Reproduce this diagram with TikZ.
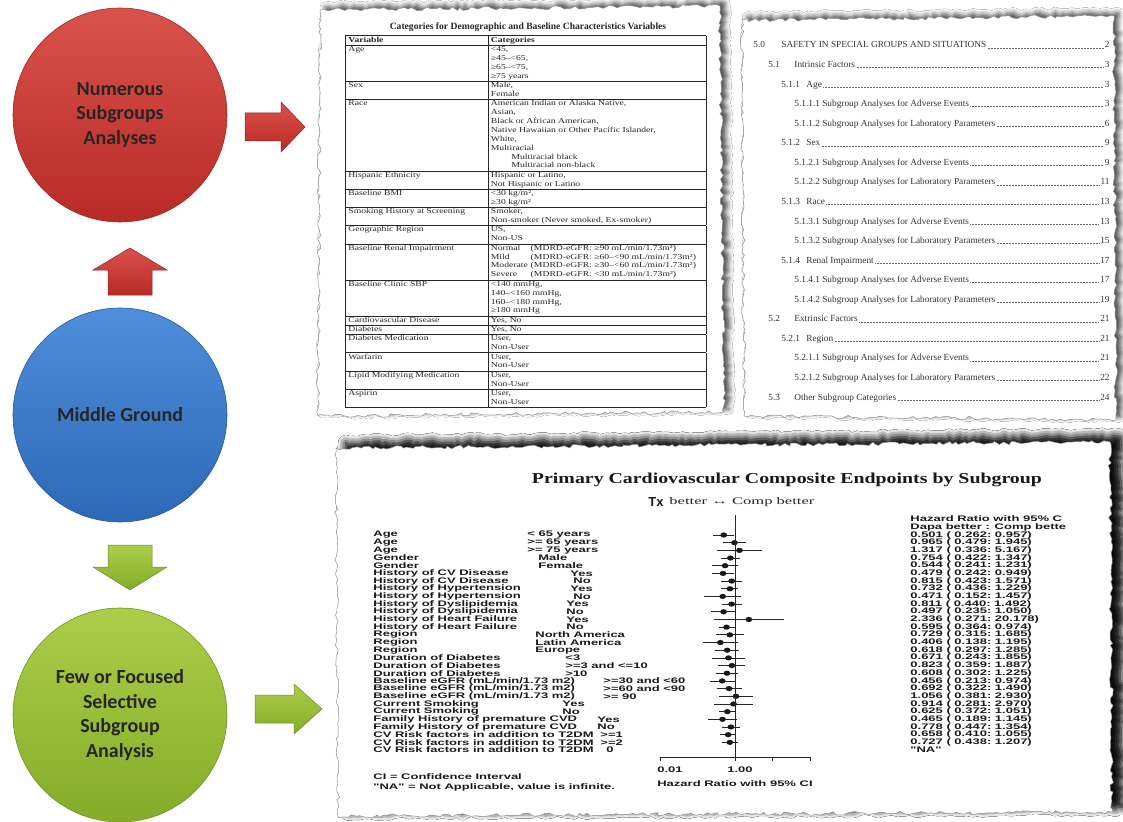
\documentclass[tikz,border=0pt]{standalone}
\usepackage{fontspec}
\setmainfont{Liberation Serif}
\newfontfamily\plotfont{Liberation Sans}
\newfontfamily\bubblefont{Carlito}
\usepackage{graphicx}
\usetikzlibrary{positioning, calc, decorations.pathmorphing, shadows.blur}

\definecolor{redtop}{RGB}{218,82,76}
\definecolor{redbot}{RGB}{184,42,38}
\definecolor{bluetop}{RGB}{78,142,218}
\definecolor{bluebot}{RGB}{44,104,182}
\definecolor{greentop}{RGB}{172,206,74}
\definecolor{greenbot}{RGB}{132,172,40}

\newcommand\squash[1]{\scalebox{1}[0.62]{#1}}
\newcommand\egfr{Baseline eGFR (mL/min/1.73 m2)}

\begin{document}
\begin{tikzpicture}[x=1pt, y=-1pt, node distance=300pt, thick]

		% Define block styles
		\tikzstyle{bubble} = [circle, minimum size=214pt, inner sep=0pt, align=center, text=black!85, line width=0.6pt, font={\bubblefont\bfseries\fontsize{20}{24.5}\selectfont}]
		\tikzstyle{paper} = [fill=white, draw=black!45, line width=0.5pt, decorate, decoration={random steps, segment length=4pt, amplitude=1.8pt}, blur shadow={shadow xshift=5pt, shadow yshift=3pt, shadow blur radius=5pt, shadow opacity=70}]
		\tikzstyle{redarrow} = [top color=redtop, bottom color=redbot, draw=redbot!80!black, line width=0.5pt]
		\tikzstyle{greenarrow} = [top color=greentop, bottom color=greenbot, draw=greenbot!80!black, line width=0.5pt]
		\tikzstyle{toctext} = [inner sep=1pt, text=black!80, font=\fontsize{9.3}{10}\selectfont]
		\tikzstyle{leader} = [densely dotted, line width=0.5pt, black!60]
		\tikzstyle{plottext} = [inner sep=0pt, text=black!90, font=\plotfont\bfseries\fontsize{13}{13}\selectfont]
		\tikzstyle{ci} = [line width=0.7pt, black!85]

		\useasboundingbox (0,0) rectangle (1123,821);
		\fill[white] (0,0) rectangle (1123,821);
		\pgfmathsetseed{7}

		% Papers
		\path[paper] (320,10) -- (720,6) -- (724,412) -- (318,416) -- cycle;
		\path[paper] (742,20) -- (1114,16) -- (1116,420) -- (744,416) -- cycle;
		\path[paper, blur shadow={shadow xshift=10pt, shadow yshift=5pt, shadow blur radius=8pt, shadow opacity=80}] (336,448) -- (1110,442) -- (1112,812) -- (338,816) -- cycle;

		% Nodes
		\node[bubble, top color=redtop, bottom color=redbot, draw=redbot!85!black] (numerous) at (120,115) {Numerous\\Subgroups\\Analyses};
		\node[bubble, top color=bluetop, bottom color=bluebot, draw=bluebot!85!black, below of=numerous] (middle) {Middle Ground};
		\node[bubble, top color=greentop, bottom color=greenbot, draw=greenbot!85!black, below of=middle] (focused) {Few or Focused\\Selective\\Subgroup\\Analysis};

		% Arrows
		\draw[redarrow] (245,113) -- (281,113) -- (281,102) -- (305,127) -- (281,152) -- (281,141) -- (245,141) -- cycle;
		\draw[redarrow] (108,295) -- (108,270) -- (93,270) -- (130,248) -- (167,270) -- (152,270) -- (152,295) -- cycle;
		\draw[greenarrow] (108,545) -- (152,545) -- (152,567) -- (167,567) -- (130,590) -- (93,567) -- (108,567) -- cycle;
		\draw[greenarrow] (255,695) -- (294,695) -- (294,684) -- (322,709) -- (294,734) -- (294,723) -- (255,723) -- cycle;

		% Table of categories
		\node[anchor=south, inner sep=0pt, text=black!85, font=\bfseries\fontsize{9.6}{10}\selectfont] (tabtitle) at (528,32) {Categories for Demographic and Baseline Characteristics Variables};
		\node[anchor=north west, inner sep=0pt, text=black!85, font=\fontsize{8}{9.4}\selectfont] (cattable) at (345,35) {%
			\setlength{\tabcolsep}{2.5pt}%
			\resizebox*{361pt}{372pt}{%
			\begin{tabular}{|p{113pt}|p{176pt}|}
				\hline
				\textbf{Variable} & \textbf{Categories}\\ \hline
				Age & <45,\newline ≥45–<65,\newline ≥65–<75,\newline ≥75 years\\ \hline
				Sex & Male,\newline Female\\ \hline
				Race & American Indian or Alaska Native,\newline Asian,\newline Black or African American,\newline Native Hawaiian or Other Pacific Islander,\newline White,\newline Multiracial\newline \hspace*{17pt}Multiracial black\newline \hspace*{17pt}Multiracial non-black\\ \hline
				Hispanic Ethnicity & Hispanic or Latino,\newline Not Hispanic or Latino\\ \hline
				Baseline BMI & <30 kg/m²,\newline ≥30 kg/m²\\ \hline
				Smoking History at Screening & Smoker,\newline Non-smoker (Never smoked, Ex-smoker)\\ \hline
				Geographic Region & US,\newline Non-US\\ \hline
				Baseline Renal Impairment & \makebox[33pt][l]{Normal}(MDRD-eGFR: ≥90 mL/min/1.73m²)\newline \makebox[33pt][l]{Mild}(MDRD-eGFR: ≥60–<90 mL/min/1.73m²)\newline \makebox[33pt][l]{Moderate}(MDRD-eGFR: ≥30–<60 mL/min/1.73m²)\newline \makebox[33pt][l]{Severe}(MDRD-eGFR: <30 mL/min/1.73m²)\\ \hline
				Baseline Clinic SBP & <140 mmHg,\newline 140–<160 mmHg,\newline 160–<180 mmHg,\newline ≥180 mmHg\\ \hline
				Cardiovascular Disease & Yes, No\\ \hline
				Diabetes & Yes, No\\ \hline
				Diabetes Medication & User,\newline Non-User\\ \hline
				Warfarin & User,\newline Non-User\\ \hline
				Lipid Modifying Medication & User,\newline Non-User\\ \hline
				Aspirin & User,\newline Non-User\\ \hline
			\end{tabular}}};

		% Table of contents
		\foreach \tnum/\tname/\nx/\tox/\pg [count=\i] in {
			5.0/SAFETY IN SPECIAL GROUPS AND SITUATIONS/752/780/2,
			5.1/Intrinsic Factors/767/793/3,
			5.1.1/Age/780/805/3,
			/5.1.1.1 Subgroup Analyses for Adverse Events/793/793/3,
			/5.1.1.2 Subgroup Analyses for Laboratory Parameters/793/793/6,
			5.1.2/Sex/780/805/9,
			/5.1.2.1 Subgroup Analyses for Adverse Events/793/793/9,
			/5.1.2.2 Subgroup Analyses for Laboratory Parameters/793/793/11,
			5.1.3/Race/780/805/13,
			/5.1.3.1 Subgroup Analyses for Adverse Events/793/793/13,
			/5.1.3.2 Subgroup Analyses for Laboratory Parameters/793/793/15,
			5.1.4/Renal Impairment/780/805/17,
			/5.1.4.1 Subgroup Analyses for Adverse Events/793/793/17,
			/5.1.4.2 Subgroup Analyses for Laboratory Parameters/793/793/19,
			5.2/Extrinsic Factors/767/793/21,
			5.2.1/Region/780/805/21,
			/5.2.1.1 Subgroup Analyses for Adverse Events/793/793/21,
			/5.2.1.2 Subgroup Analyses for Laboratory Parameters/793/793/22,
			5.3/Other Subgroup Categories/767/793/24} {
			\pgfmathsetmacro\yy{48+19.56*(\i-1)}
			\node[toctext, anchor=base west] (tocn\i) at (\nx,\yy) {\tnum};
			\node[toctext, anchor=base west] (toct\i) at (\tox,\yy) {\tname};
			\node[toctext, anchor=base east] (tocp\i) at (1111,\yy) {\pg};
			\draw[leader] (toct\i.base east) -- (tocp\i.base west);
		}

		% Forest plot: titles
		\node[inner sep=0pt, text=black!90] (ptitle) at (787,480) {\resizebox{510pt}{10.5pt}{\bfseries Primary Cardiovascular Composite Endpoints by Subgroup}};
		\node[inner sep=0pt, text=black!90, font=\plotfont\bfseries\fontsize{13}{13}\selectfont] (tx) at (656,502) {Tx};
		\node[inner sep=0pt, text=black!85, right=5pt of tx] (txbetter) {\resizebox{145pt}{7pt}{better ↔ Comp better}};
		\node[plottext, anchor=west] (hrhead) at (910,519) {\squash{Hazard Ratio with 95\% C}};
		\node[plottext, anchor=west] (hrsub) at (910,527) {\squash{Dapa better : Comp bette}};

		% Forest plot: subgroups
		\foreach \lab/\cat/\cx [count=\i] in {
			Age/{< 65 years}/527, Age/{>= 65 years}/527, Age/{>= 75 years}/527,
			Gender/Male/538, Gender/Female/538,
			History of CV Disease/Yes/570, History of CV Disease/No/573,
			History of Hypertension/Yes/570, History of Hypertension/No/573,
			History of Dyslipidemia/Yes/566, History of Dyslipidemia/No/566,
			History of Heart Failure/Yes/566, History of Heart Failure/No/566,
			Region/North America/535, Region/Latin America/535, Region/Europe/535,
			Duration of Diabetes/<3/565, Duration of Diabetes/>=3 and <=10/565, Duration of Diabetes/>10/565,
			\egfr/>=30 and <60/603, \egfr/>=60 and <90/603, \egfr/>= 90/603,
			Current Smoking/Yes/562, Current Smoking/No/562,
			Family History of premature CVD/Yes/597, Family History of premature CVD/No/597,
			CV Risk factors in addition to T2DM/>=1/600, CV Risk factors in addition to T2DM/>=2/600, CV Risk factors in addition to T2DM/0/606} {
			\pgfmathsetmacro\yy{535+7.68*(\i-1)}
			\node[plottext, anchor=west] (lab\i) at (373,\yy) {\squash{\lab}};
			\node[plottext, anchor=west] (cat\i) at (\cx,\yy) {\squash{\cat}};
		}

		% Forest plot: estimates
		\foreach \hrm/\hrlo/\hrhi [count=\i] in {
			0.501/0.262/0.957, 0.965/0.479/1.945, 1.317/0.336/5.167, 0.754/0.422/1.347,
			0.544/0.241/1.231, 0.479/0.242/0.949, 0.815/0.423/1.571, 0.732/0.436/1.229,
			0.471/0.152/1.457, 0.811/0.440/1.492, 0.497/0.235/1.050, 2.336/0.271/20.178,
			0.595/0.364/0.974, 0.729/0.315/1.685, 0.406/0.138/1.195, 0.618/0.297/1.285,
			0.671/0.243/1.855, 0.823/0.359/1.887, 0.608/0.302/1.225, 0.456/0.213/0.974,
			0.692/0.322/1.490, 1.056/0.381/2.930, 0.914/0.281/2.970, 0.625/0.372/1.051,
			0.465/0.189/1.145, 0.778/0.447/1.354, 0.658/0.410/1.055, 0.727/0.438/1.207} {
			\pgfmathsetmacro\yy{535+7.68*(\i-1)}
			\pgfmathsetmacro\xm{735+37.5*log10(\hrm)}
			\pgfmathsetmacro\xl{735+37.5*log10(\hrlo)}
			\pgfmathsetmacro\xh{735+37.5*log10(\hrhi)}
			\coordinate (lo\i) at (\xl,\yy);
			\coordinate (hi\i) at (\xh,\yy);
			\draw[ci] (lo\i) -- (hi\i);
			\fill[black!90] (\xm,\yy) ellipse [x radius=3.4pt, y radius=2.6pt];
			\node[plottext, anchor=west] (hr\i) at (910,\yy) {\squash{\hrm\ (\ \hrlo:\ \hrhi)}};
		}
		\node[plottext, anchor=west] (hr29) at (910,750) {\squash{"NA"}};

		% Forest plot: axis
		\coordinate (reftop) at (735,515);
		\coordinate (refbot) at (735,757);
		\coordinate (axl) at (660,757);
		\coordinate (axr) at (810,757);
		\draw[ci] (reftop) -- (refbot);
		\draw[ci] (axl) -- (axr);
		\foreach \tk in {660,735,772.5,810} \draw[ci] (\tk,757) -- (\tk,761);
		\node[plottext] (tick1) at (670,770) {\squash{0.01}};
		\node[plottext] (tick2) at (740,770) {\squash{1.00}};
		\node[plottext] (axlabel) at (735,784) {\squash{Hazard Ratio with 95\% CI}};

		% Notes
		\node[plottext, anchor=west] (cinote) at (373,777) {\squash{CI = Confidence Interval}};
		\node[plottext, anchor=west] (nanote) at (373,787) {\squash{"NA" = Not Applicable, value is infinite.}};

	\end{tikzpicture}
\end{document}
